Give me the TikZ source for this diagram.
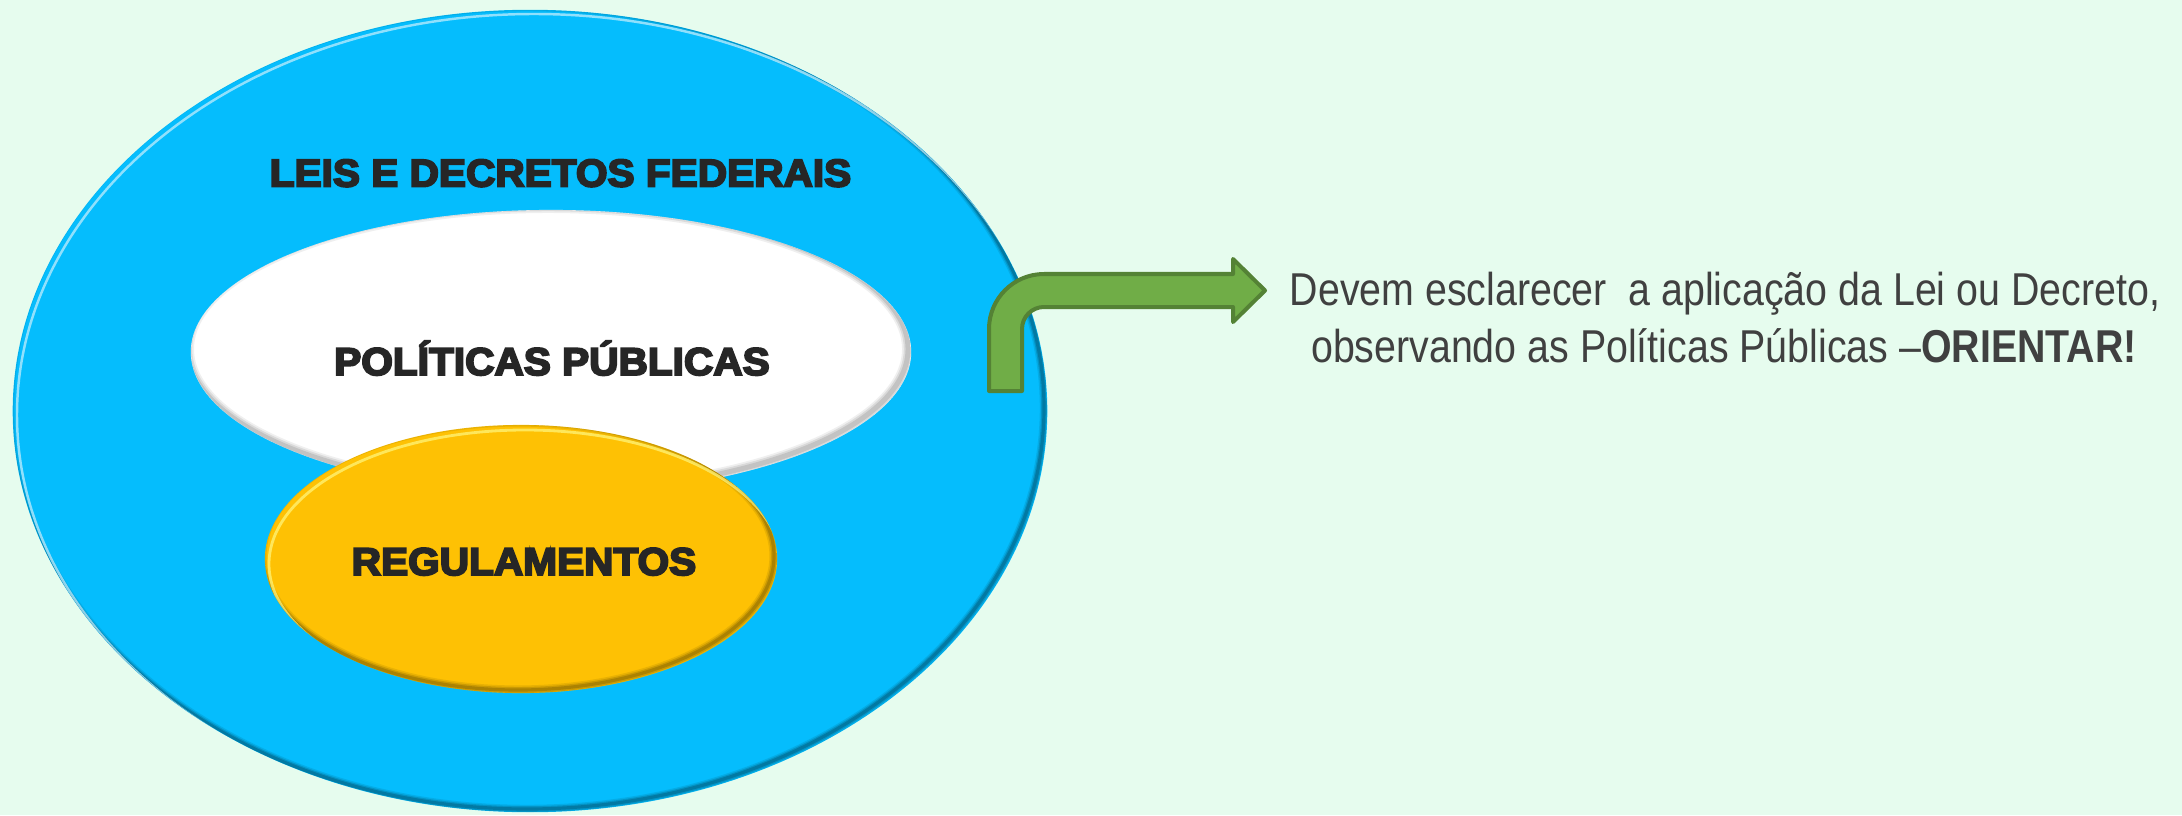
\documentclass[tikz,border=0pt]{standalone}
\usepackage{fontspec}
\setmainfont{Liberation Sans}
\newfontfamily\heavyfont{Liberation Sans Bold}[FakeStretch=1.05, FakeBold=5]
\newfontfamily\narrowfont{Liberation Sans}[FakeStretch=0.854]
\usetikzlibrary{shapes.geometric}
\definecolor{bgmint}{HTML}{E6FCEE}
\definecolor{leisblue}{HTML}{05BDFD}
\definecolor{regyellow}{HTML}{FEC104}
\definecolor{txtdark}{HTML}{262626}
\definecolor{notegray}{HTML}{404040}
\definecolor{arrowgreen}{HTML}{70AD47}
\definecolor{arrowedge}{HTML}{548235}
\begin{document}
\begin{tikzpicture}[x=0.01cm,y=-0.01cm,
    oval/.style={ellipse,inner sep=0pt},
    lbl/.style={font=\heavyfont\fontsize{11}{13}\selectfont,
        text=txtdark,inner sep=0pt,anchor=base},
    notetext/.style={font=\narrowfont\fontsize{13.1}{16.2}\selectfont,
        text=notegray,inner sep=0pt,anchor=base},
    bentarrow/.style={fill=arrowgreen,draw=arrowedge,line width=1.14pt,
        line join=round}]
    \path[fill=bgmint,use as bounding box] (0,0) rectangle (2182,815);

    \node[oval,fill=leisblue,minimum width=10.34cm,minimum height=8.02cm] (leis) at (530,411) {};
    \begin{scope}
        \clip (leis.center) ellipse [x radius=517, y radius=401];
        \foreach \w/\o in {2.4/0.15,1.6/0.25,0.9/0.35}
            \draw[leisblue!40!black,line width=\w pt,opacity=\o] (527,408) ellipse [x radius=517, y radius=401];
        \draw[cyan!20!white,line width=0.7pt,opacity=0.7] (534,415) ellipse [x radius=517, y radius=401];
    \end{scope}

    \node[oval,fill=white,minimum width=7.2cm,minimum height=2.84cm] (politicas) at (551,352) {};
    \begin{scope}
        \clip (politicas.center) ellipse [x radius=360, y radius=142];
        \foreach \w/\o in {3.4/0.12,2.4/0.18,1.4/0.25}
            \draw[gray,line width=\w pt,opacity=\o] (548,349) ellipse [x radius=360, y radius=142];
    \end{scope}

    \node[oval,fill=regyellow,minimum width=5.12cm,minimum height=2.68cm] (regul) at (521,559) {};
    \begin{scope}
        \clip (regul.center) ellipse [x radius=256, y radius=134];
        \foreach \w/\o in {2.6/0.15,1.7/0.25,0.9/0.35}
            \draw[regyellow!45!black,line width=\w pt,opacity=\o] (518,556) ellipse [x radius=256, y radius=134];
        \draw[yellow!50!white,line width=0.8pt,opacity=0.7] (525,564) ellipse [x radius=256, y radius=134];
    \end{scope}

    \node[lbl] (leistxt) at (560.5,186.5) {LEIS E DECRETOS FEDERAIS};
    \node[lbl] (poltxt) at (552,375) {POLÍTICAS PÚBLICAS};
    \node[lbl] (regtxt) at (524,575) {REGULAMENTOS};

    \node[notetext] (note1) at (1725,305) {Devem esclarecer\ \ a aplicação da Lei ou Decreto,};
    \node[notetext] (note2) at (1724,362) {observando as Políticas Públicas –\textbf{ORIENTAR!}};

    \coordinate (foot) at (1005,391);
    \coordinate (tip) at (1265,290.5);
    \filldraw[bentarrow] (foot) ++(-16,0) -- (989,329) arc[start angle=180,end angle=270,radius=55]
        -- (1233,274) -- (1233,259) -- (tip) -- (1233,322) -- (1233,307) -- (1044,307)
        arc[start angle=270,end angle=180,radius=22] -- (1022,391) -- cycle;
\end{tikzpicture}
\end{document}
